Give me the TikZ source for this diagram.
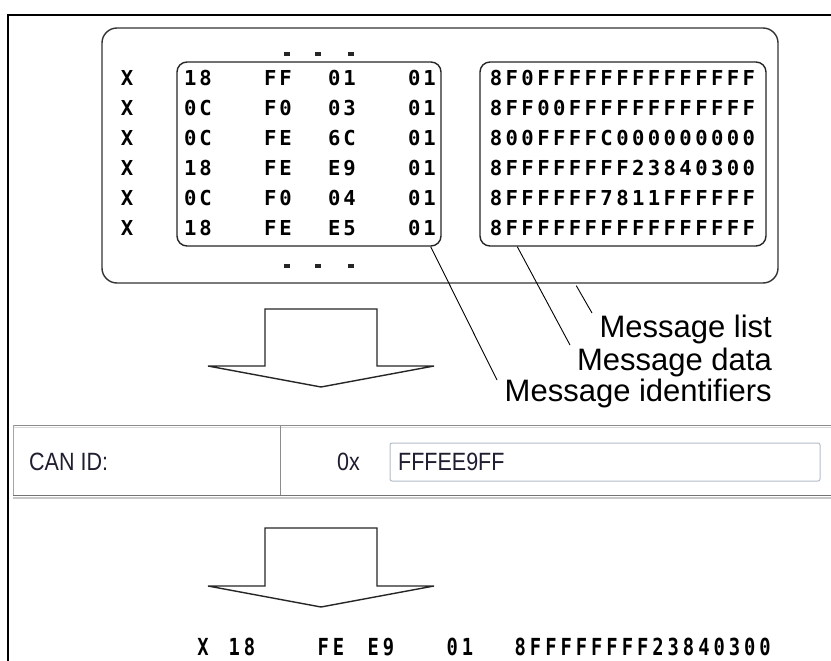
\documentclass[tikz,border=0pt]{standalone}
\usepackage{fontspec}
\setmainfont{Liberation Sans}
\newfontfamily\hexfont{DejaVu Sans Mono}
\newfontfamily\hexnarrow{DejaVu Sans Mono}[FakeStretch=0.8]
\newfontfamily\uifont{Liberation Sans}[FakeStretch=0.86]
\usetikzlibrary{calc}
\def\hexp{15.8pt}
\def\hexloop#1{\ifx\relax#1\else\hbox to\hexp{\hss#1\hss}\expandafter\hexloop\fi}
\newcommand\hexstr[2]{\def\hexp{#1}\expandafter\hexloop#2\relax}
\definecolor{uitext}{HTML}{1E1E30}
\definecolor{fieldborder}{HTML}{B4BCC8}
\begin{document}
\begin{tikzpicture}[x=1pt,y=-1pt,
  hexcell/.style={inner sep=0pt, font={\hexfont\bfseries\fontsize{20.6pt}{22pt}\selectfont}},
  hexbottom/.style={inner sep=0pt, font={\hexnarrow\bfseries\fontsize{23.5pt}{25pt}\selectfont}},
  listbox/.style={draw=black!80, line width=1.4pt, rounded corners=15pt, inner sep=0pt},
  groupbox/.style={draw=black!85, line width=1.4pt, rounded corners=10pt, inner sep=0pt},
  leader/.style={draw=black, line width=0.9pt},
  lbl/.style={inner sep=0pt, anchor=base east, font={\fontsize{31pt}{33pt}\selectfont}},
  uitxt/.style={inner sep=0pt, anchor=base west, text=uitext, font={\uifont\fontsize{25pt}{27pt}\selectfont}},
  inputbox/.style={draw=fieldborder, line width=1pt, rounded corners=2pt, fill=white, inner sep=0pt},
  bigarrow/.style={draw=black!85, line width=1.4pt, line join=miter, fill=white},
  dotmark/.style={fill=black!85}
]
\useasboundingbox (0,0) rectangle (831,661);
\fill[white] (0,0) rectangle (831,661);
% frame
\draw[line width=2.6pt] (8,663) -- (8,15) -- (833,15);

% message list and groups
\node[listbox, minimum width=676pt, minimum height=255pt] (msglist) at (440,155.5) {};
\node[groupbox, minimum width=264pt, minimum height=184pt] (idbox) at (309,154) {};
\node[groupbox, minimum width=286pt, minimum height=184pt] (databox) at (623,154) {};

% ellipsis marks
\foreach \xx in {287,318,351}{
  \fill[dotmark] (\xx-3,52) rectangle (\xx+3,56);
  \fill[dotmark] (\xx-3,264) rectangle (\xx+3,268);
}

% rows
\foreach \i/\a/\b/\c/\d/\e in {1/18/FF/01/01/8F0FFFFFFFFFFFFFF,
                                2/0C/F0/03/01/8FF00FFFFFFFFFFFF,
                                3/0C/FE/6C/01/800FFFFC000000000,
                                4/18/FE/E9/01/8FFFFFFFF23840300,
                                5/0C/F0/04/01/8FFFFFF7811FFFFFF,
                                6/18/FE/E5/01/8FFFFFFFFFFFFFFFF}{
  \node[hexcell] (x\i) at (127,{48+30*\i}) {\hexstr{15.8pt}{X}};
  \node[hexcell] (a\i) at (198,{48+30*\i}) {\hexstr{15.2pt}{\a}};
  \node[hexcell] (b\i) at (278,{48+30*\i}) {\hexstr{15.2pt}{\b}};
  \node[hexcell] (c\i) at (342,{48+30*\i}) {\hexstr{15.2pt}{\c}};
  \node[hexcell] (d\i) at (422,{48+30*\i}) {\hexstr{15.2pt}{\d}};
  \node[hexcell, anchor=west] (e\i) at (488,{48+30*\i}) {\hexstr{15.8pt}{\e}};
}

% labels
\node[lbl] (lbllist) at (772,337) {Message list};
\node[lbl] (lbldata) at (772,370) {Message data};
\node[lbl] (lblid) at (772,401) {Message identifiers};
\coordinate (idfrom) at ($(idbox.south east)+(-11,0)$);
\coordinate (datafrom) at ($(databox.south west)+(38,0)$);
\coordinate (listfrom) at ($(msglist.south west)+(475,2)$);
\coordinate (idto) at (497,380);
\coordinate (datato) at (570,345);
\coordinate (listto) at (592,313);
\draw[leader] (idfrom) -- (idto);
\draw[leader] (datafrom) -- (datato);
\draw[leader] (listfrom) -- (listto);

% arrows
\draw[bigarrow] (265,309) -- (377,309) -- (377,366) -- (434,366) -- (321,387) -- (208,366) -- (265,366) -- cycle;
\draw[bigarrow] (265,528) -- (377,528) -- (377,586) -- (434,586) -- (321,607) -- (208,586) -- (265,586) -- cycle;

% CAN ID panel
\fill[white] (13,425) rectangle (831,496);
\draw[line width=1pt, black!45] (13,425.5) -- (831,425.5);
\draw[line width=1pt, black!15] (13,427) -- (831,427);
\draw[line width=1pt, black!35] (13.5,425) -- (13.5,496);
\draw[line width=1pt, black!45] (280,425) -- (280,496);
\draw[line width=1.2pt, black!55] (13,495.5) -- (831,495.5);
\draw[line width=1.6pt, black!22] (13,497.8) -- (831,497.8);
\node[inputbox, minimum width=430pt, minimum height=38pt] (field) at (605,462) {};
\node[uitxt] (canlbl) at (29,470) {CAN ID:};
\node[uitxt] (hexpre) at (337,470) {0x};
\node[uitxt] (canval) at (398,470) {FFFEE9FF};

% result line
\node[hexbottom] (rx) at (203,647) {\hexstr{15.3pt}{X}};
\node[hexbottom] (ra) at (242,647) {\hexstr{15.3pt}{18}};
\node[hexbottom] (rb) at (331,647) {\hexstr{15.3pt}{FE}};
\node[hexbottom] (rc) at (381,647) {\hexstr{15.3pt}{E9}};
\node[hexbottom] (rd) at (460,647) {\hexstr{15.3pt}{01}};
\node[hexbottom, anchor=east] (re) at (773,647) {\hexstr{15.3pt}{8FFFFFFFF23840300}};
\end{tikzpicture}
\end{document}
